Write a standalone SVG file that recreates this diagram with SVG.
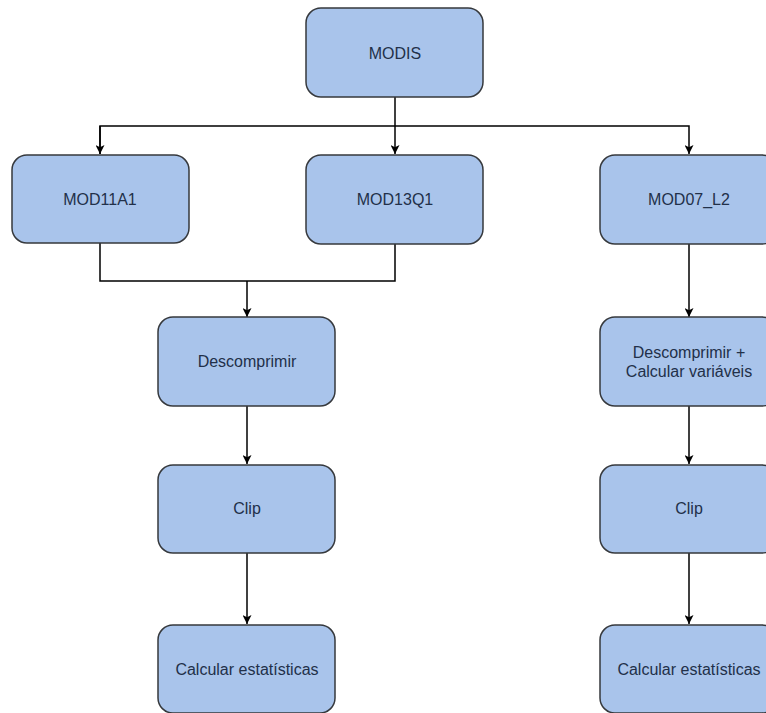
<svg xmlns="http://www.w3.org/2000/svg" width="766" height="713" viewBox="0 0 766 713">
<style>
.box{fill:#a9c4eb;stroke:#36393d;stroke-width:1.5}
.lbl{font-family:"Liberation Sans",Arial,sans-serif;font-size:16px;fill:#223049;text-anchor:middle}
.con{fill:none;stroke:#000;stroke-width:1.5}
</style>
<defs>
<marker id="ah" viewBox="0 0 10 10" refX="10" refY="5" markerWidth="10" markerHeight="9" markerUnits="userSpaceOnUse" orient="auto">
<path d="M0,0 L10,5 L0,10 L2.5,5 Z" fill="#000"/>
</marker>
</defs>
<rect width="766" height="713" fill="#fff"/>
<g id="connectors">
<path class="con" d="M395,97 V126"/>
<path class="con" d="M100,154 V126 H689 V154" marker-end="url(#ah)"/>
<path class="con" d="M100,126 V154" marker-end="url(#ah)"/>
<path class="con" d="M395,126 V154" marker-end="url(#ah)"/>
<path class="con" d="M100,243 V281 H395 V244"/>
<path class="con" d="M247,281 V317" marker-end="url(#ah)"/>
<path class="con" d="M247,406 V464" marker-end="url(#ah)"/>
<path class="con" d="M247,553 V624" marker-end="url(#ah)"/>
<path class="con" d="M689,244 V317" marker-end="url(#ah)"/>
<path class="con" d="M689,406 V464" marker-end="url(#ah)"/>
<path class="con" d="M689,553 V624" marker-end="url(#ah)"/>
</g>
<g id="modis"><rect class="box" x="306" y="8" width="177" height="89" rx="15"/><text class="lbl" x="395" y="59">MODIS</text></g>
<g id="mod11a1"><rect class="box" x="12" y="155" width="177" height="88" rx="15"/><text class="lbl" x="100" y="205">MOD11A1</text></g>
<g id="mod13q1"><rect class="box" x="306" y="155" width="177" height="89" rx="15"/><text class="lbl" x="395" y="205">MOD13Q1</text></g>
<g id="mod07"><rect class="box" x="600" y="155" width="177" height="89" rx="15"/><text class="lbl" x="689" y="205">MOD07_L2</text></g>
<g id="descomprimir"><rect class="box" x="158" y="317" width="177" height="89" rx="15"/><text class="lbl" x="247" y="367">Descomprimir</text></g>
<g id="descomprimir2"><rect class="box" x="600" y="317" width="177" height="89" rx="15"/><text class="lbl" x="689" y="358">Descomprimir +</text><text class="lbl" x="689" y="377">Calcular variáveis</text></g>
<g id="clip1"><rect class="box" x="158" y="465" width="177" height="88" rx="15"/><text class="lbl" x="247" y="514">Clip</text></g>
<g id="clip2"><rect class="box" x="600" y="465" width="177" height="88" rx="15"/><text class="lbl" x="689" y="514">Clip</text></g>
<g id="stats1"><rect class="box" x="158" y="625" width="177" height="88" rx="15"/><text class="lbl" x="247" y="675">Calcular estatísticas</text></g>
<g id="stats2"><rect class="box" x="600" y="625" width="177" height="88" rx="15"/><text class="lbl" x="689" y="675">Calcular estatísticas</text></g>
</svg>
